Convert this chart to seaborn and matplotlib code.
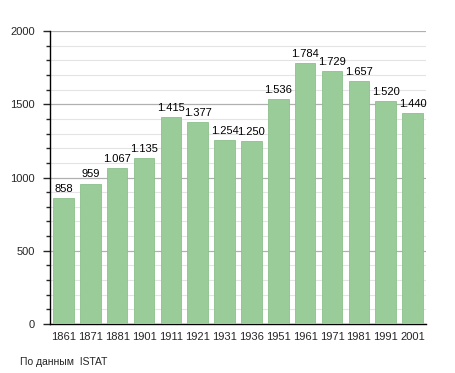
import pandas as pd
import seaborn as sns
import matplotlib.pyplot as plt
from matplotlib.ticker import MultipleLocator

years = ['1861', '1871', '1881', '1901', '1911', '1921', '1931', '1936',
         '1951', '1961', '1971', '1981', '1991', '2001']
population = [858, 959, 1067, 1135, 1415, 1377, 1254, 1250,
              1536, 1784, 1729, 1657, 1520, 1440]

df = pd.DataFrame({'year': years, 'pop': population})

sns.set_style('white')
plt.rcParams['font.family'] = ['Liberation Sans', 'DejaVu Sans']

fig = plt.figure(figsize=(4.55, 3.73), dpi=100)
ax = fig.add_axes([50/455, 49/373, 376/455, 293/373])

sns.barplot(x='year', y='pop', data=df, color='#99cc99', saturation=1,
            width=0.77, edgecolor='#8cc08c', linewidth=0.6, ax=ax, zorder=3)

ax.set_ylim(0, 2000)
ax.set_xlim(-0.5, len(years) - 0.5)
ax.yaxis.set_major_locator(MultipleLocator(500))
ax.yaxis.set_minor_locator(MultipleLocator(100))
ax.grid(axis='y', which='major', color='#b0b0b0', linewidth=0.9, zorder=0)
ax.grid(axis='y', which='minor', color='#e4e4e4', linewidth=0.8, zorder=0)
ax.set_axisbelow(True)

for s in ['top', 'right']:
    ax.spines[s].set_visible(False)
ax.spines['left'].set_color('black')
ax.spines['bottom'].set_color('black')
ax.spines['left'].set_linewidth(1)
ax.spines['bottom'].set_linewidth(1)

ax.tick_params(axis='y', which='major', left=True, length=5, width=1, labelsize=8, pad=6)
ax.tick_params(axis='y', which='minor', left=True, length=3, width=1)
ax.tick_params(axis='x', bottom=False, labelsize=8, pad=2)
ax.set_xlabel('')
ax.set_ylabel('')

for i, v in enumerate(population):
    label = f'{v:,}'.replace(',', '.') if v >= 1000 else str(v)
    ax.text(i, v + 28, label, ha='center', va='bottom', fontsize=8, color='black')

fig.text(20/455, 1 - 362/373, 'По данным  ISTAT', fontsize=7.5, va='center')

fig.savefig('out.png', dpi=100)
